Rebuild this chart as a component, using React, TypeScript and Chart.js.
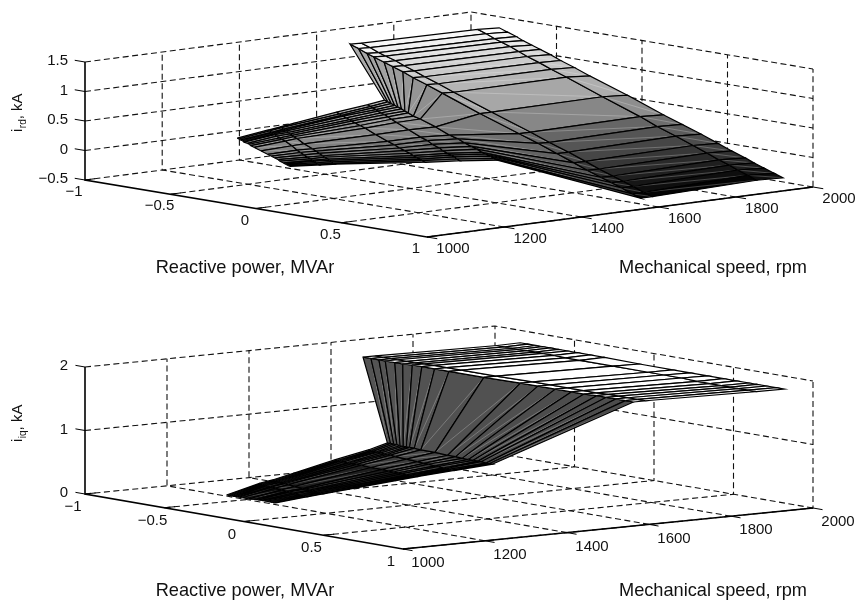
import React, { useEffect, useRef } from "react";
import { Chart, registerables } from "chart.js";

Chart.register(...registerables);

const qTicks = [-1, -0.5, 0, 0.5, 1];
const speedTicks = [1000, 1200, 1400, 1600, 1800, 2000];
const irdTicks = [-0.5, 0, 0.5, 1, 1.5];
const irqTicks = [0, 1, 2];

// Mesh nodes: one speed per column; reactive power and currents per row of each column.
const meshSpeeds = [1000, 1080, 1120, 1310, 1400, 1470, 1620, 1650, 1920, 1980];

const meshQ = [
  [-0.11, -0.1, -0.09, -0.08, -0.07, -0.07, -0.05, -0.04, -0.03, -0.01, 0.03, 0.07, 0.09, 0.11, 0.13, 0.14, 0.16, 0.17, 0.18, 0.19, 0.2],
  [-0.11, -0.1, -0.09, -0.09, -0.08, -0.07, -0.06, -0.04, -0.03, -0.01, 0.03, 0.06, 0.08, 0.1, 0.12, 0.14, 0.15, 0.16, 0.17, 0.18, 0.19],
  [-0.13, -0.12, -0.11, -0.1, -0.09, -0.08, -0.07, -0.06, -0.05, -0.03, 0.01, 0.06, 0.08, 0.1, 0.12, 0.13, 0.15, 0.16, 0.17, 0.18, 0.19],
  [-0.23, -0.21, -0.2, -0.19, -0.17, -0.15, -0.14, -0.12, -0.09, -0.06, 0, 0.07, 0.11, 0.14, 0.17, 0.2, 0.22, 0.24, 0.26, 0.27, 0.29],
  [-0.25, -0.23, -0.22, -0.2, -0.19, -0.17, -0.15, -0.13, -0.11, -0.08, -0.01, 0.06, 0.1, 0.13, 0.17, 0.19, 0.22, 0.24, 0.26, 0.27, 0.29],
  [-0.31, -0.29, -0.27, -0.25, -0.23, -0.21, -0.19, -0.17, -0.14, -0.1, -0.01, 0.07, 0.12, 0.16, 0.2, 0.23, 0.26, 0.28, 0.31, 0.33, 0.35],
  [-0.85, -0.8, -0.75, -0.71, -0.65, -0.6, -0.54, -0.48, -0.4, -0.31, -0.09, 0.14, 0.25, 0.36, 0.46, 0.54, 0.62, 0.68, 0.74, 0.8, 0.85],
  [-0.85, -0.8, -0.75, -0.71, -0.65, -0.6, -0.54, -0.48, -0.4, -0.31, -0.09, 0.14, 0.25, 0.36, 0.46, 0.54, 0.62, 0.68, 0.74, 0.8, 0.85],
  [-0.78, -0.73, -0.68, -0.64, -0.59, -0.54, -0.49, -0.42, -0.35, -0.26, -0.05, 0.17, 0.27, 0.38, 0.48, 0.56, 0.63, 0.69, 0.74, 0.8, 0.85],
  [-0.79, -0.74, -0.69, -0.65, -0.6, -0.55, -0.49, -0.43, -0.35, -0.26, -0.04, 0.17, 0.28, 0.39, 0.49, 0.57, 0.65, 0.7, 0.76, 0.82, 0.87],
];

const meshIrd = [
  [0.64, 0.63, 0.62, 0.61, 0.6, 0.59, 0.58, 0.57, 0.55, 0.53, 0.49, 0.45, 0.43, 0.41, 0.39, 0.37, 0.35, 0.34, 0.33, 0.32, 0.31],
  [0.71, 0.7, 0.68, 0.67, 0.66, 0.65, 0.63, 0.61, 0.59, 0.57, 0.51, 0.45, 0.42, 0.39, 0.36, 0.34, 0.32, 0.31, 0.29, 0.27, 0.26],
  [0.72, 0.71, 0.69, 0.68, 0.67, 0.65, 0.63, 0.61, 0.59, 0.57, 0.5, 0.44, 0.41, 0.38, 0.35, 0.33, 0.31, 0.29, 0.27, 0.25, 0.24],
  [0.76, 0.74, 0.72, 0.71, 0.69, 0.67, 0.65, 0.63, 0.6, 0.57, 0.49, 0.41, 0.37, 0.33, 0.3, 0.27, 0.24, 0.22, 0.2, 0.18, 0.16],
  [0.8, 0.78, 0.76, 0.74, 0.72, 0.7, 0.68, 0.65, 0.62, 0.58, 0.49, 0.4, 0.36, 0.31, 0.27, 0.23, 0.2, 0.18, 0.16, 0.13, 0.11],
  [0.79, 0.77, 0.75, 0.73, 0.71, 0.69, 0.66, 0.64, 0.6, 0.57, 0.48, 0.38, 0.34, 0.29, 0.25, 0.22, 0.18, 0.16, 0.14, 0.11, 0.09],
  [1.35, 1.3, 1.24, 1.2, 1.14, 1.09, 1.03, 0.96, 0.88, 0.78, 0.54, 0.31, 0.2, 0.08, -0.03, -0.12, -0.2, -0.26, -0.32, -0.39, -0.44],
  [1.34, 1.29, 1.23, 1.19, 1.14, 1.08, 1.02, 0.95, 0.87, 0.77, 0.54, 0.31, 0.19, 0.08, -0.03, -0.12, -0.2, -0.26, -0.32, -0.39, -0.44],
  [1.38, 1.33, 1.27, 1.23, 1.18, 1.12, 1.06, 0.99, 0.91, 0.82, 0.59, 0.36, 0.24, 0.13, 0.02, -0.07, -0.15, -0.21, -0.27, -0.33, -0.39],
  [1.35, 1.3, 1.25, 1.2, 1.15, 1.1, 1.04, 0.97, 0.89, 0.79, 0.57, 0.34, 0.23, 0.12, 0.01, -0.08, -0.16, -0.22, -0.28, -0.34, -0.39],
];

const meshIrq = [
  [0.37, 0.37, 0.37, 0.37, 0.37, 0.37, 0.37, 0.37, 0.37, 0.37, 0.37, 0.38, 0.38, 0.38, 0.38, 0.38, 0.38, 0.38, 0.38, 0.38, 0.38],
  [0.5, 0.5, 0.5, 0.49, 0.49, 0.49, 0.49, 0.48, 0.48, 0.47, 0.46, 0.45, 0.45, 0.44, 0.44, 0.43, 0.43, 0.43, 0.43, 0.42, 0.42],
  [0.52, 0.52, 0.52, 0.51, 0.51, 0.51, 0.51, 0.5, 0.5, 0.49, 0.48, 0.47, 0.47, 0.46, 0.46, 0.45, 0.45, 0.45, 0.45, 0.44, 0.44],
  [0.67, 0.67, 0.67, 0.67, 0.67, 0.66, 0.66, 0.66, 0.66, 0.66, 0.65, 0.65, 0.64, 0.64, 0.64, 0.64, 0.63, 0.63, 0.63, 0.63, 0.63],
  [0.76, 0.76, 0.75, 0.75, 0.75, 0.75, 0.74, 0.74, 0.74, 0.73, 0.72, 0.71, 0.7, 0.7, 0.69, 0.69, 0.68, 0.68, 0.68, 0.67, 0.67],
  [0.8, 0.8, 0.8, 0.8, 0.79, 0.79, 0.79, 0.79, 0.79, 0.78, 0.78, 0.77, 0.77, 0.76, 0.76, 0.76, 0.76, 0.76, 0.75, 0.75, 0.75],
  [1.82, 1.82, 1.82, 1.82, 1.82, 1.82, 1.83, 1.83, 1.83, 1.83, 1.83, 1.84, 1.84, 1.84, 1.84, 1.84, 1.85, 1.85, 1.85, 1.85, 1.85],
  [1.82, 1.82, 1.82, 1.82, 1.82, 1.82, 1.83, 1.83, 1.83, 1.83, 1.83, 1.84, 1.84, 1.84, 1.84, 1.84, 1.85, 1.85, 1.85, 1.85, 1.85],
  [1.84, 1.84, 1.84, 1.84, 1.84, 1.84, 1.84, 1.84, 1.83, 1.83, 1.83, 1.83, 1.83, 1.83, 1.82, 1.82, 1.82, 1.82, 1.82, 1.82, 1.82],
  [1.84, 1.84, 1.84, 1.84, 1.84, 1.84, 1.84, 1.84, 1.84, 1.84, 1.83, 1.83, 1.83, 1.83, 1.83, 1.83, 1.83, 1.83, 1.83, 1.83, 1.83],
];

const FONT = '"Liberation Sans", Arial, sans-serif';
const fmt = (v: number) => String(v).replace("-", "\u2212");

type Panel = {
  top: number; height: number;
  ox: number; oy: number; qx: number; qy: number; sx: number; sy: number; zy: number;
  zTicks: number[]; mesh: number[][]; shadeLo: number; shadeHi: number;
  sub: string; subY: number; qOff: [number, number]; sOff: [number, number]; axisLabelY: number;
};

const panels: Panel[] = [
  {
    top: 0, height: 300, ox: 85, oy: 180, qx: 342, qy: 57, sx: 386, sy: -50, zy: 59,
    zTicks: irdTicks, mesh: meshIrd, shadeLo: -0.42, shadeHi: 1.4,
    sub: "rd", subY: 132, qOff: [-11, 12], sOff: [26, 12], axisLabelY: 268,
  },
  {
    top: 300, height: 301, ox: 85, oy: 494, qx: 318, qy: 55, sx: 410, sy: -41, zy: 63.5,
    zTicks: irqTicks, mesh: meshIrq, shadeLo: 0.3, shadeHi: 1.82,
    sub: "iq", subY: 442, qOff: [-12, 13], sOff: [25, 14], axisLabelY: 591,
  },
];

function project(p: Panel, q: number, speed: number, z: number) {
  const u = (q + 1) / 2;
  const s = (speed - 1000) / 1000;
  return {
    x: p.ox + u * p.qx + s * p.sx,
    y: p.oy + u * p.qy + s * p.sy - (z - p.zTicks[0]) * p.zy,
  };
}

const grayOf = (z: number, lo: number, hi: number) => {
  const v = Math.round(255 * Math.max(0, Math.min(1, (z - lo) / (hi - lo))));
  return `rgb(${v},${v},${v})`;
};

function buildDatasets(p: Panel) {
  const backToFront: any[] = [];
  const zMin = p.zTicks[0];
  const zMax = p.zTicks[p.zTicks.length - 1];
  const sMin = speedTicks[0];
  const sMax = speedTicks[speedTicks.length - 1];
  const line = (data: { x: number; y: number }[], solid = false, width = 1) =>
    backToFront.push({
      data, showLine: true, pointRadius: 0, borderWidth: solid ? width : 1.1,
      borderColor: solid ? "#000" : "#111", borderDash: solid ? [] : [6, 3.5], tension: 0, fill: false,
    });

  // dashed walls and floor
  for (const z of p.zTicks) {
    if (z !== zMin) {
      line([project(p, -1, sMin, z), project(p, -1, sMax, z), project(p, 1, sMax, z)]);
    }
  }
  for (const s of speedTicks) {
    if (s !== sMin) line([project(p, 1, s, zMin), project(p, -1, s, zMin), project(p, -1, s, zMax)]);
  }
  for (const q of qTicks) {
    if (q !== -1) line([project(p, q, sMin, zMin), project(p, q, sMax, zMin), project(p, q, sMax, zMax)]);
  }
  line([project(p, -1, sMin, zMin), project(p, -1, sMax, zMin)]);

  // surface cells
  for (let r = 0; r < meshQ[0].length - 1; r++) {
    for (let c = 0; c < meshQ.length - 1; c++) {
      const node = (cc: number, rr: number) => project(p, meshQ[cc][rr], meshSpeeds[cc], p.mesh[cc][rr]);
      const a = node(c, r);
      backToFront.push({
        data: [a, node(c + 1, r), node(c + 1, r + 1), node(c, r + 1), a],
        showLine: true, pointRadius: 0, borderWidth: 1.2, borderColor: "#000", tension: 0, fill: false,
        cellFill: grayOf(p.mesh[c][r], p.shadeLo, p.shadeHi),
      });
    }
  }

  // solid axes and ticks
  line([project(p, -1, sMin, zMax), project(p, -1, sMin, zMin), project(p, 1, sMin, zMin), project(p, 1, sMax, zMin)], true, 1.6);
  for (const z of p.zTicks) line([project(p, -1, sMin, z), project(p, -1.06, sMin, z)], true, 1);
  for (const q of qTicks) line([project(p, q, sMin, zMin), project(p, q, sMin + 26, zMin)], true, 1);
  for (const s of speedTicks) line([project(p, 1, s, zMin), project(p, 1.06, s, zMin)], true, 1);
  return backToFront.reverse();
}

const cellPlugin = {
  id: "surfaceCells",
  beforeDatasetDraw(chart: any, args: any) {
    const ds = chart.data.datasets[args.index];
    if (!ds.cellFill) return;
    const pts = args.meta.data;
    const ctx = chart.ctx;
    ctx.save();
    ctx.beginPath();
    pts.forEach((pt: any, i: number) => (i ? ctx.lineTo(pt.x, pt.y) : ctx.moveTo(pt.x, pt.y)));
    ctx.closePath();
    ctx.fillStyle = ds.cellFill;
    ctx.fill();
    // faint seam between the two triangles of the quad
    ctx.beginPath();
    ctx.moveTo(pts[0].x, pts[0].y);
    ctx.lineTo(pts[2].x, pts[2].y);
    ctx.strokeStyle = "rgba(255,255,255,0.3)";
    ctx.lineWidth = 0.8;
    ctx.stroke();
    ctx.restore();
  },
};

function textPlugin(p: Panel) {
  return {
    id: "axisText",
    afterDraw(chart: any) {
      const ctx = chart.ctx;
      const px = (v: number) => chart.scales.x.getPixelForValue(v);
      const py = (v: number) => chart.scales.y.getPixelForValue(v);
      const sMin = speedTicks[0];
      ctx.save();
      ctx.fillStyle = "#111";
      ctx.textBaseline = "middle";
      ctx.font = `15px ${FONT}`;
      ctx.textAlign = "right";
      for (const z of p.zTicks) {
        const a = project(p, -1, sMin, z);
        ctx.fillText(fmt(z), px(a.x - 17), py(a.y - 1));
      }
      ctx.textAlign = "center";
      for (const q of qTicks) {
        const a = project(p, q, sMin, p.zTicks[0]);
        ctx.fillText(fmt(q), px(a.x + p.qOff[0]), py(a.y + p.qOff[1]));
      }
      for (const s of speedTicks) {
        const a = project(p, 1, s, p.zTicks[0]);
        ctx.fillText(fmt(s), px(a.x + p.sOff[0]), py(a.y + p.sOff[1]));
      }
      ctx.font = `18.2px ${FONT}`;
      ctx.fillText("Reactive power, MVAr", px(245), py(p.axisLabelY));
      ctx.fillText("Mechanical speed, rpm", px(713), py(p.axisLabelY));

      // rotated z-axis label with subscript
      ctx.translate(px(22), py(p.subY));
      ctx.rotate(-Math.PI / 2);
      ctx.textAlign = "left";
      ctx.textBaseline = "alphabetic";
      ctx.font = `15px ${FONT}`;
      ctx.fillText("i", 0, 0);
      let x = ctx.measureText("i").width + 0.5;
      ctx.font = `10px ${FONT}`;
      ctx.fillText(p.sub, x, 3.5);
      x += ctx.measureText(p.sub).width;
      ctx.font = `15px ${FONT}`;
      ctx.fillText(", kA", x, 0);
      ctx.restore();
    },
  };
}

function SurfacePanel({ panel }: { panel: Panel }) {
  const ref = useRef<HTMLCanvasElement | null>(null);
  useEffect(() => {
    const chart = new Chart(ref.current as HTMLCanvasElement, {
      type: "scatter",
      data: { datasets: buildDatasets(panel) },
      options: {
        animation: false,
        responsive: false,
        layout: { padding: 0 },
        plugins: { legend: { display: false }, tooltip: { enabled: false } },
        scales: {
          x: { type: "linear", display: false, min: 0, max: 860 },
          y: { type: "linear", display: false, reverse: true, min: panel.top, max: panel.top + panel.height },
        },
      },
      plugins: [cellPlugin, textPlugin(panel)],
    } as any);
    return () => chart.destroy();
  }, [panel]);
  return <canvas ref={ref} width={860} height={panel.height} style={{ display: "block", width: 860, height: panel.height }} />;
}

export default function App() {
  return (
    <div style={{ position: "absolute", left: 0, top: 0, width: 860, height: 601, background: "#fff" }}>
      {panels.map((p) => (
        <SurfacePanel key={p.top} panel={p} />
      ))}
    </div>
  );
}
